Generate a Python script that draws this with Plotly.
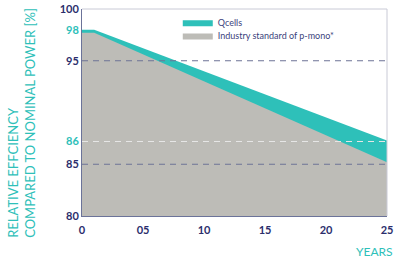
import plotly.graph_objects as go

years = [0, 1, 25]
qcells = [98, 98, 87.3]
industry = [97.7, 97.7, 85.2]

y_tick_vals = [80, 85, 87.2, 95, 98, 100]
y_tick_text = ["80", "85", "86", "95", "98", "100"]
y_tick_teal = ["86", "98"]
x_tick_vals = [0, 5, 10, 15, 20, 25]
x_tick_text = ["0", "05", "10", "15", "20", "25"]

grid_dark = [85, 95]
grid_light = [87.2]

TEAL = "#2ec0b9"
GRAY = "#bdbcb7"
NAVY = "#2b2e6c"
FONT = "Lato"

fig = go.Figure()
fig.add_trace(go.Scatter(x=years, y=qcells, name="Qcells", mode="lines",
                         line=dict(color=TEAL, width=0), fill="tozeroy",
                         fillcolor=TEAL, legend="legend"))
fig.add_trace(go.Scatter(x=years, y=industry, name="Industry standard of p-mono*",
                         mode="lines", line=dict(color=GRAY, width=0),
                         fill="tozeroy", fillcolor=GRAY, legend="legend2"))

ticktext = [f"<span style='color:{TEAL}'>{t}</span>" if t in y_tick_teal else t
            for t in y_tick_text]

for v in grid_dark:
    fig.add_shape(type="line", xref="paper", x0=0, x1=1, yref="y", y0=v, y1=v,
                  line=dict(color="#6d7396", width=1.2, dash="6px,5px"), layer="above")
for v in grid_light:
    fig.add_shape(type="line", xref="paper", x0=0, x1=1, yref="y", y0=v, y1=v,
                  line=dict(color="#e6e6e6", width=1.2, dash="6px,5px"), layer="above")

# top / right light border
fig.add_shape(type="line", xref="paper", yref="paper", x0=0, x1=1, y0=1, y1=1,
              line=dict(color="#c9cad6", width=1), layer="above")
fig.add_shape(type="line", xref="paper", yref="paper", x0=1, x1=1, y0=0, y1=1,
              line=dict(color="#c9cad6", width=1), layer="above")

leg_common = dict(xanchor="left", yanchor="middle", bgcolor="rgba(0,0,0,0)",
                  itemwidth=30, font=dict(family=FONT, size=9, color="#3b3f7c"))

fig.update_layout(
    width=395, height=258,
    margin=dict(l=82, r=8, t=9, b=42, autoexpand=False),
    paper_bgcolor="white", plot_bgcolor="white",
    showlegend=True,
    legend=dict(x=0.314, y=0.936, **leg_common),
    legend2=dict(x=0.314, y=0.872, **leg_common),
    xaxis=dict(range=[0, 25], tickvals=x_tick_vals, ticktext=x_tick_text,
               showgrid=False, zeroline=False, showline=True, automargin=False,
               linecolor="#6b7399", linewidth=1, ticks="",
               ticklabelstandoff=4,
               tickfont=dict(family=FONT, size=11, color=NAVY, weight=700),
               layer="above traces"),
    yaxis=dict(range=[80, 100], tickvals=y_tick_vals, ticktext=ticktext,
               showgrid=False, zeroline=False, showline=True, automargin=False,
               linecolor="#6b7399", linewidth=1, ticks="",
               tickfont=dict(family=FONT, size=11, color=NAVY, weight=700),
               layer="above traces"),
    annotations=[
        dict(text="RELATIVE EFFCIENCY<br>COMPARED TO NOMINAL POWER [%]",
             textangle=-90, xref="paper", yref="paper", x=-0.198, y=-0.117,
             xanchor="center", yanchor="bottom", align="left", showarrow=False,
             font=dict(family=FONT, size=13, color=TEAL)),
        dict(text="YEARS", xref="paper", yref="paper", x=1.025, y=-0.17,
             xanchor="right", yanchor="middle", showarrow=False,
             font=dict(family=FONT, size=12, color=TEAL)),
    ],
)

fig.write_html("out.html", config={"displayModeBar": False},
               post_script="document.body.style.margin='0';document.body.style.overflow='hidden';")
